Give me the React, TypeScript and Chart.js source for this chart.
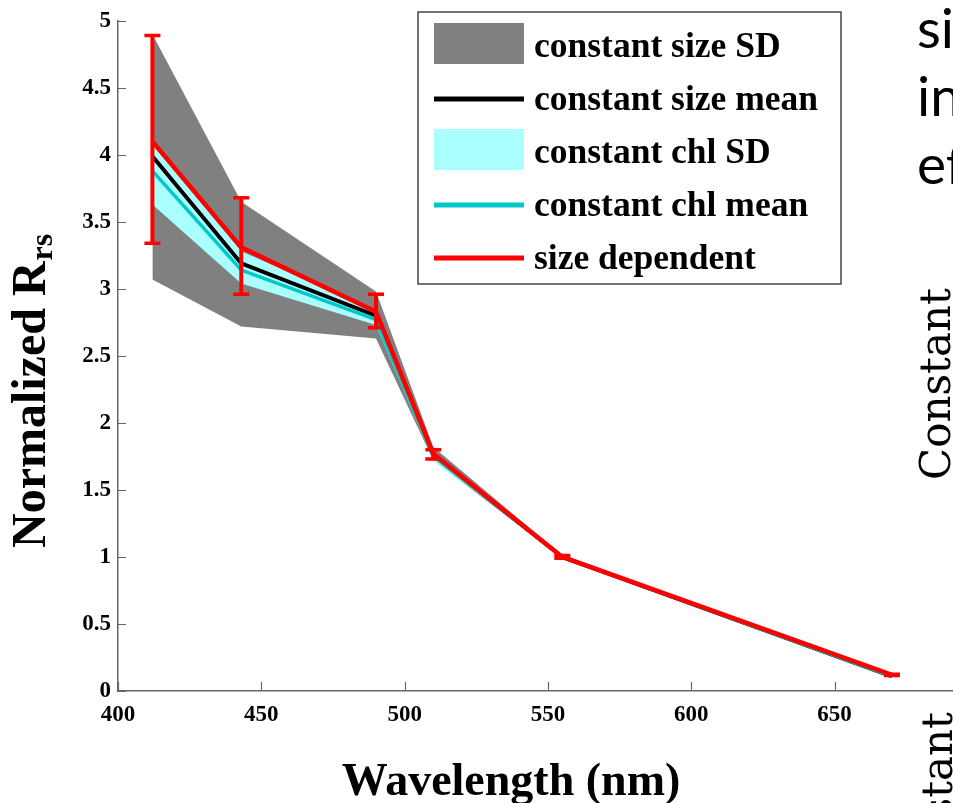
import React, { useEffect, useRef } from "react";
import { Chart, registerables } from "chart.js";

Chart.register(...registerables);

// ---- data ----
const wavelengths = [412, 443, 490, 510, 555, 670];

const sizeDependent = [4.1, 3.31, 2.83, 1.77, 1.0, 0.12];
const sizeDependentErrLow = [3.34, 2.96, 2.71, 1.73, 0.99, 0.115];
const sizeDependentErrHigh = [4.89, 3.68, 2.96, 1.8, 1.01, 0.125];

const constSizeMean = [3.99, 3.19, 2.8, 1.76, 1.0, 0.11];
const constSizeSDUpper = [4.9, 3.65, 2.98, 1.82, 1.01, 0.115];
const constSizeSDLower = [3.07, 2.72, 2.63, 1.72, 0.99, 0.105];

const constChlMean = [3.88, 3.14, 2.77, 1.75, 1.0, 0.11];
const constChlSDUpper = [4.08, 3.28, 2.84, 1.78, 1.0, 0.112];
const constChlSDLower = [3.63, 3.04, 2.73, 1.72, 1.0, 0.108];

const legendLabels = [
  "constant size SD",
  "constant size mean",
  "constant chl SD",
  "constant chl mean",
  "size dependent",
];

const xTitle = "Wavelength (nm)";
const yTitleMain = "Normalized R";
const yTitleSub = "rs";
const slideLines = ["si", "in", "ef"];
const slideVertical = "Constant";

// ---- styles ----
const GRAY = "#808080";
const CYAN_FILL = "#aaffff";
const CYAN_LINE = "#00c8c8";
const RED = "#ff0000";
const BLACK = "#000000";
const AXIS = "#666666";
const SERIF = "'Liberation Serif', 'Times New Roman', serif";

const pts = (ys: number[]) => wavelengths.map((x, i) => ({ x, y: ys[i] }));

const overlayPlugin = {
  id: "overlay",
  afterDatasetsDraw(chart: any) {
    const ctx = chart.ctx;
    const xs = chart.scales.x;
    const ys = chart.scales.y;
    ctx.save();
    ctx.strokeStyle = RED;
    ctx.lineCap = "butt";
    wavelengths.forEach((w, i) => {
      const x = xs.getPixelForValue(w);
      const yl = ys.getPixelForValue(sizeDependentErrLow[i]);
      const yh = ys.getPixelForValue(sizeDependentErrHigh[i]);
      ctx.lineWidth = 4;
      ctx.beginPath();
      ctx.moveTo(x, yl);
      ctx.lineTo(x, yh);
      ctx.stroke();
      ctx.lineWidth = 3.5;
      ctx.beginPath();
      ctx.moveTo(x - 8, yl);
      ctx.lineTo(x + 8, yl);
      ctx.moveTo(x - 8, yh);
      ctx.lineTo(x + 8, yh);
      ctx.stroke();
    });
    ctx.restore();
  },
  afterDraw(chart: any) {
    const ctx = chart.ctx;
    const xs = chart.scales.x;
    const ys = chart.scales.y;
    const area = chart.chartArea;
    ctx.save();
    // inward ticks
    ctx.strokeStyle = AXIS;
    ctx.lineWidth = 1.2;
    ctx.beginPath();
    ys.ticks.forEach((t: any) => {
      const y = Math.round(ys.getPixelForValue(t.value)) + 0.5;
      ctx.moveTo(area.left, y);
      ctx.lineTo(area.left + 8, y);
    });
    xs.ticks.forEach((t: any) => {
      const x = Math.round(xs.getPixelForValue(t.value)) + 0.5;
      ctx.moveTo(x, area.bottom);
      ctx.lineTo(x, area.bottom - 9);
    });
    ctx.stroke();

    // legend
    const lx = 418, ly = 12, lw = 423, lh = 272;
    ctx.fillStyle = "#ffffff";
    ctx.fillRect(lx, ly, lw, lh);
    ctx.strokeStyle = "#444444";
    ctx.lineWidth = 1.5;
    ctx.strokeRect(lx, ly, lw, lh);
    const ds = chart.data.datasets;
    const swatches = [
      { kind: "box", color: ds[5].backgroundColor },
      { kind: "line", color: ds[2].borderColor },
      { kind: "box", color: ds[3].backgroundColor },
      { kind: "line", color: ds[1].borderColor },
      { kind: "line", color: ds[0].borderColor },
    ];
    ctx.font = `bold 35.5px ${SERIF}`;
    ctx.textBaseline = "alphabetic";
    ctx.textAlign = "left";
    legendLabels.forEach((label, i) => {
      const base = 57 + i * 53;
      const sw = swatches[i];
      if (sw.kind === "box") {
        ctx.fillStyle = sw.color;
        ctx.fillRect(434, base - 34, 90, 41);
      } else {
        ctx.strokeStyle = sw.color;
        ctx.lineWidth = 5;
        ctx.beginPath();
        ctx.moveTo(434, base - 11);
        ctx.lineTo(524, base - 11);
        ctx.stroke();
      }
      ctx.fillStyle = BLACK;
      ctx.fillText(label, 534, base);
    });

    // axis titles
    ctx.fillStyle = BLACK;
    ctx.font = `bold 46px ${SERIF}`;
    ctx.textAlign = "center";
    ctx.fillText(xTitle, 511, 795);

    ctx.save();
    ctx.translate(45, 548);
    ctx.rotate(-Math.PI / 2);
    ctx.textAlign = "left";
    ctx.font = `bold 48px ${SERIF}`;
    ctx.fillText(yTitleMain, 0, 0);
    const w = ctx.measureText(yTitleMain).width;
    ctx.font = `bold 32px ${SERIF}`;
    ctx.fillText(yTitleSub, w + 1, 7);
    ctx.restore();

    // slide text on the right
    ctx.font = `55px Lato, 'Open Sans', sans-serif`;
    ctx.textAlign = "left";
    slideLines.forEach((s, i) => ctx.fillText(s, 917, 48 + i * 68));

    ctx.font = `42px 'DejaVu Serif', 'Liberation Serif', serif`;
    const vw = ctx.measureText(slideVertical).width;
    ctx.save();
    ctx.translate(950, 480);
    ctx.rotate(-Math.PI / 2);
    ctx.fillText(slideVertical, 0, 0);
    ctx.restore();
    ctx.save();
    ctx.translate(952, 712 + vw);
    ctx.rotate(-Math.PI / 2);
    ctx.fillText(slideVertical, 0, 0);
    ctx.restore();

    ctx.restore();
  },
};

export default function App() {
  const ref = useRef<HTMLCanvasElement | null>(null);

  useEffect(() => {
    if (!ref.current) return;
    const tickFont = { family: SERIF, size: 23, weight: "bold" as const };
    const chart = new Chart(ref.current, {
      type: "line",
      data: {
        datasets: [
          {
            label: "size dependent",
            data: pts(sizeDependent),
            borderColor: RED,
            borderWidth: 4.5,
            fill: false,
          },
          {
            label: "constant chl mean",
            data: pts(constChlMean),
            borderColor: CYAN_LINE,
            borderWidth: 3.5,
            fill: false,
          },
          {
            label: "constant size mean",
            data: pts(constSizeMean),
            borderColor: BLACK,
            borderWidth: 4,
            fill: false,
          },
          {
            label: "constant chl SD",
            data: pts(constChlSDUpper),
            borderColor: "rgba(0,0,0,0)",
            backgroundColor: CYAN_FILL,
            borderWidth: 1,
            fill: "+1",
          },
          {
            label: "constant chl SD lower",
            data: pts(constChlSDLower),
            borderColor: "rgba(0,0,0,0)",
            borderWidth: 1,
            fill: false,
          },
          {
            label: "constant size SD",
            data: pts(constSizeSDUpper),
            borderColor: "rgba(0,0,0,0)",
            backgroundColor: GRAY,
            borderWidth: 1,
            fill: "+1",
          },
          {
            label: "constant size SD lower",
            data: pts(constSizeSDLower),
            borderColor: "rgba(0,0,0,0)",
            borderWidth: 1,
            fill: false,
          },
        ],
      },
      options: {
        animation: false,
        responsive: false,
        devicePixelRatio: 1,
        layout: { padding: { top: 15, right: 0, left: 0, bottom: 0 } },
        elements: {
          point: { radius: 0, hoverRadius: 0 },
          line: { tension: 0, borderJoinStyle: "miter" },
        },
        plugins: {
          legend: { display: false },
          tooltip: { enabled: false },
        },
        scales: {
          x: {
            type: "linear",
            min: 400,
            max: 691.3,
            afterFit: (s: any) => {
              s.height = 112;
            },
            ticks: {
              stepSize: 50,
              includeBounds: false,
              font: tickFont,
              color: BLACK,
              padding: 10,
              maxRotation: 0,
              callback: (v: any) => String(Math.round(Number(v))),
            },
            grid: { display: false, drawTicks: false },
            border: { display: true, color: AXIS, width: 1.5 },
          },
          y: {
            type: "linear",
            min: 0,
            max: 5,
            afterFit: (s: any) => {
              s.width = 118;
            },
            ticks: {
              stepSize: 0.5,
              font: tickFont,
              color: BLACK,
              padding: 7,
              callback: (v: any) => String(Number(Number(v).toFixed(2))),
            },
            grid: { display: false, drawTicks: false },
            border: { display: true, color: AXIS, width: 1.5 },
          },
        },
      },
      plugins: [overlayPlugin],
    } as any);
    return () => chart.destroy();
  }, []);

  return (
    <div
      style={{
        position: "fixed",
        left: 0,
        top: 0,
        width: 953,
        height: 803,
        overflow: "hidden",
        background: "#ffffff",
      }}
    >
      <canvas ref={ref} width={953} height={803} style={{ display: "block" }} />
    </div>
  );
}
